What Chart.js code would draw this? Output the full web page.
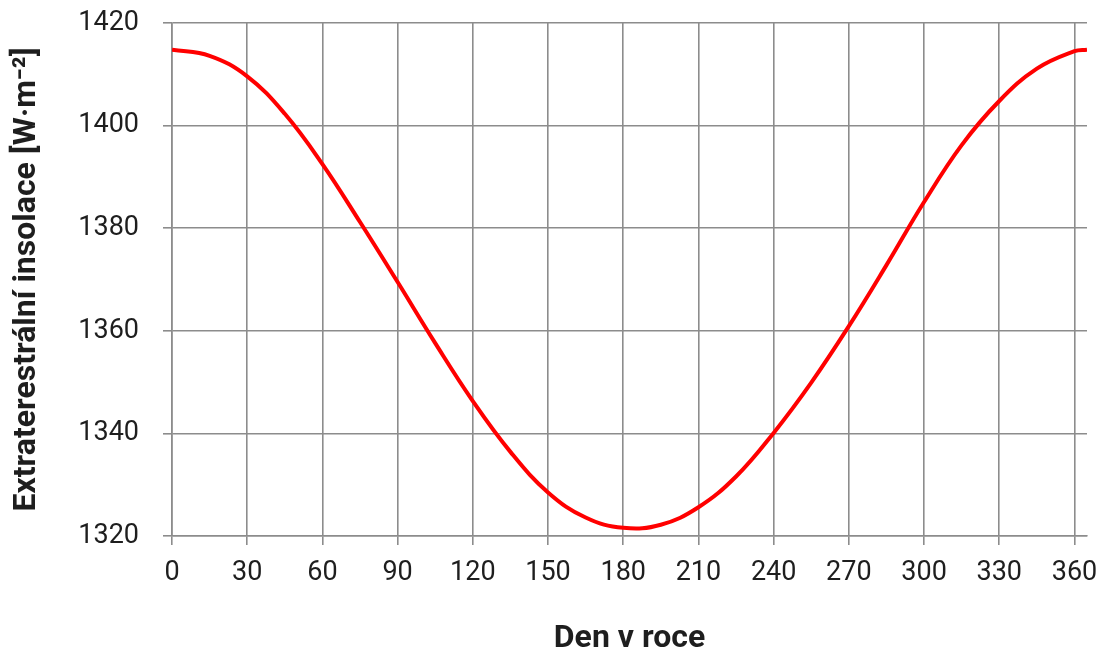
<!DOCTYPE html>
<html>
<head>
<meta charset="utf-8">
<script src="https://cdn.jsdelivr.net/npm/chart.js@4"></script>
<style>
  html, body { margin: 0; padding: 0; background: #fff; }
  #wrap { width: 1112px; height: 653px; }
</style>
</head>
<body>
<div id="wrap"><canvas id="chart"></canvas></div>
<script>
// day of year and extraterrestrial insolation
const days = [0, 15, 30, 45, 60, 75, 90, 105, 120, 135, 150, 165, 180, 195, 210, 225, 240, 255, 270, 285, 300, 315, 330, 345, 360, 365];
const insolation = [1414.8, 1413.6, 1409.6, 1402.3, 1392.5, 1381.2, 1369.5, 1357.6, 1346.3, 1336.4, 1328.5, 1323.6, 1321.6, 1322.2, 1325.6, 1331.6, 1340.1, 1349.9, 1360.9, 1372.8, 1385.1, 1396.2, 1404.8, 1411.1, 1414.5, 1414.8];

const xTitle = 'Den v roce';
const yTitle = 'Extraterestrální insolace [W·m⁻²]';

const gridColor = '#8c8c8c';
const textColor = '#1e1e1e';

const ctx = document.getElementById('chart').getContext('2d');
new Chart(ctx, {
  type: 'line',
  data: {
    datasets: [{
      data: days.map((d, i) => ({ x: d, y: insolation[i] })),
      borderColor: '#ff0000',
      borderWidth: 4,
      pointRadius: 0,
      fill: false,
      tension: 0.4
    }]
  },
  options: {
    responsive: true,
    maintainAspectRatio: false,
    animation: false,
    layout: { padding: { top: 23, right: 25, bottom: 0, left: 0 } },
    plugins: { legend: { display: false }, tooltip: { enabled: false } },
    scales: {
      x: {
        type: 'linear',
        min: 0,
        max: 365,
        grid: { color: gridColor, lineWidth: 1.6, tickLength: 9 },
        border: { color: gridColor, width: 1.6 },
        ticks: {
          stepSize: 30,
          includeBounds: false,
          padding: 12,
          maxRotation: 0,
          color: textColor,
          font: { family: 'Roboto', size: 27 },
          callback: (v) => String(v)
        },
        title: {
          display: true,
          text: xTitle,
          color: textColor,
          font: { family: 'Roboto', size: 32, weight: 'bold', lineHeight: 0.9 },
          padding: { top: 0, bottom: 0 }
        },
        afterFit: (scale) => { scale.height = 653 - 536; }
      },
      y: {
        min: 1320,
        max: 1420,
        grid: { color: gridColor, lineWidth: 1.6, tickLength: 9 },
        border: { color: gridColor, width: 1.6 },
        ticks: {
          stepSize: 20,
          padding: 24,
          color: textColor,
          font: { family: 'Roboto', size: 27 },
          callback: (v) => String(v)
        },
        title: {
          display: true,
          text: yTitle,
          color: textColor,
          font: { family: 'Roboto', size: 32, weight: 'bold' },
          padding: { top: 8, bottom: 0 }
        },
        afterFit: (scale) => {
          scale.width = 172;
          scale.paddingTop = 0;
          scale.paddingBottom = 0;
        }
      }
    }
  }
});
</script>
</body>
</html>
